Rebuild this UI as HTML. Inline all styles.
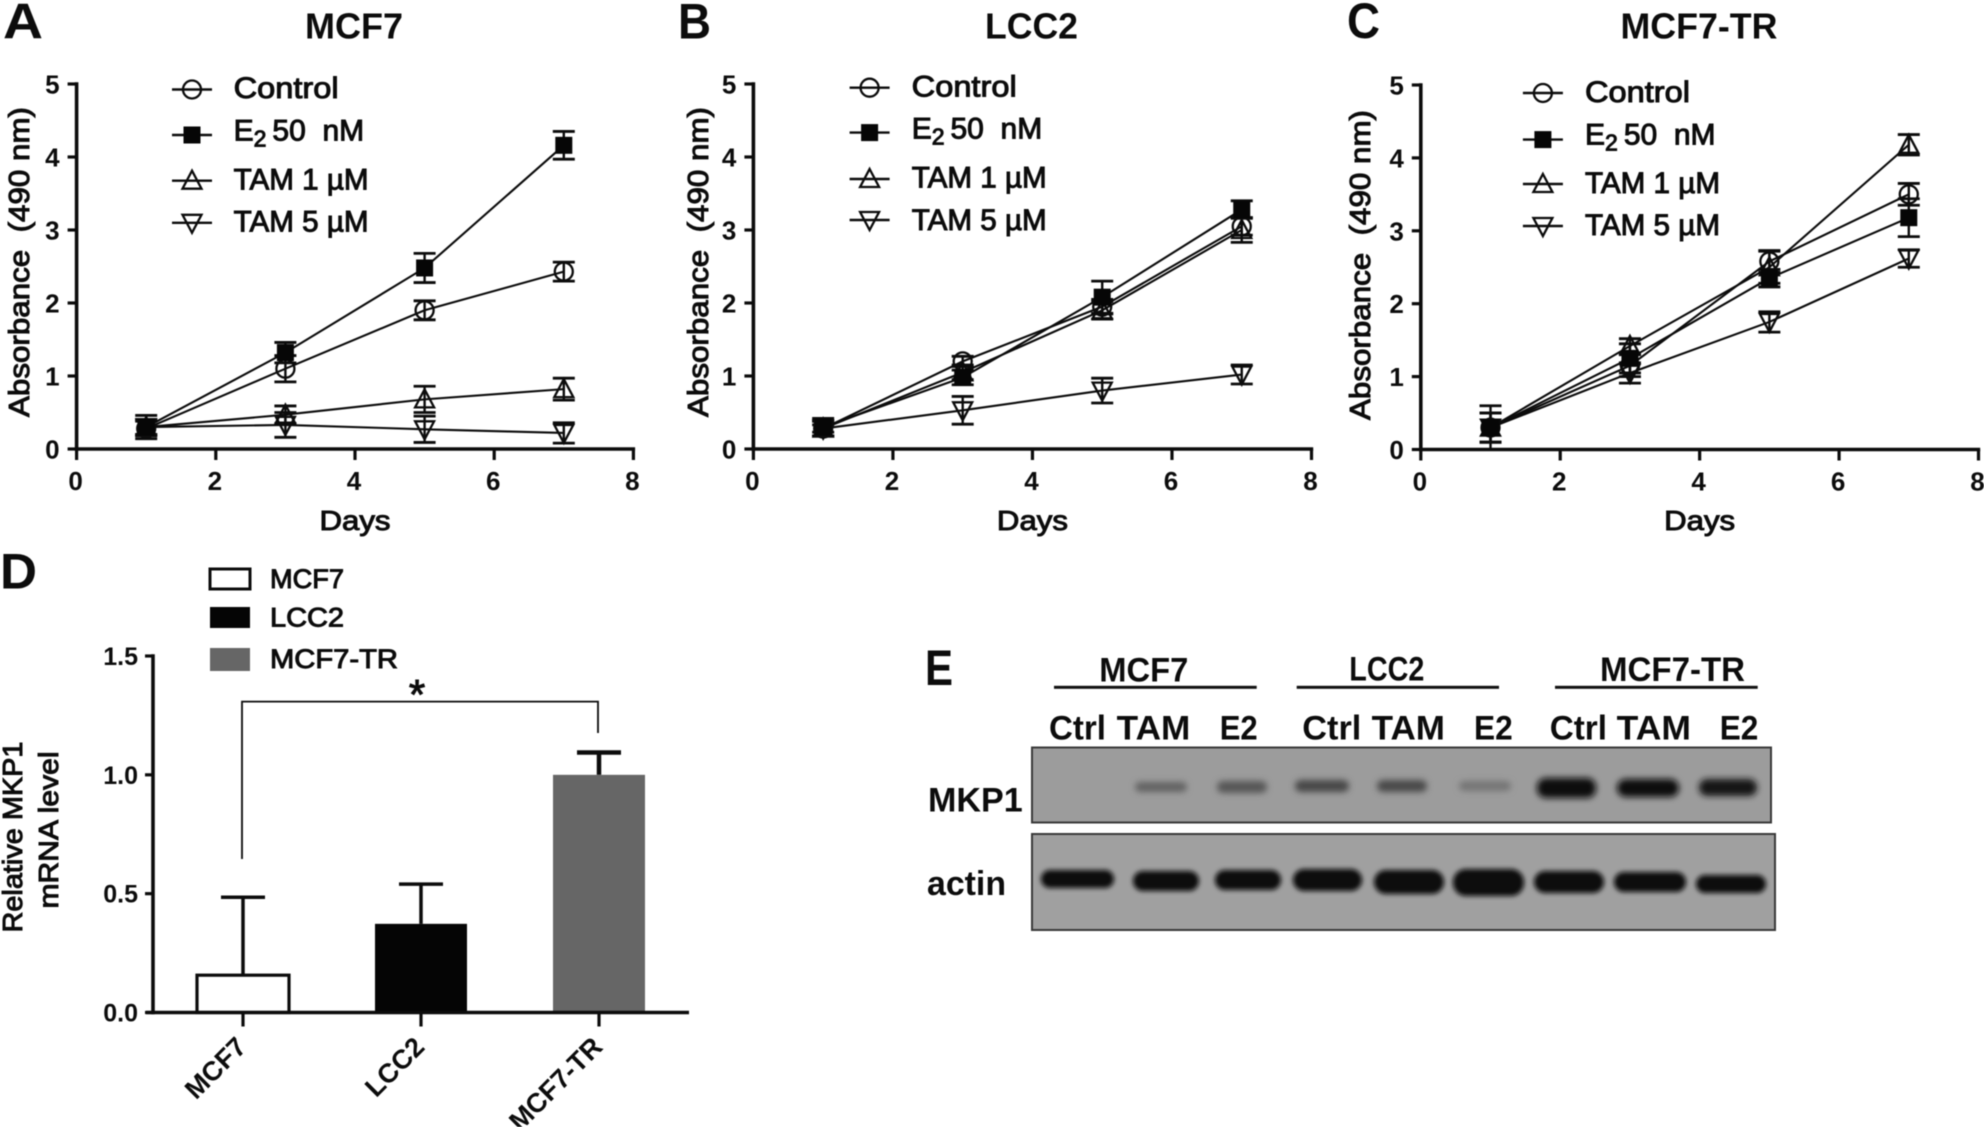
<!DOCTYPE html>
<html lang="en">
<head>
<meta charset="utf-8">
<title>MKP1 proliferation and expression figure</title>
<style>
html,body{margin:0;padding:0;background:#fff;}
#figure{display:block;width:1984px;height:1127px;background:#fff;filter:blur(.45px);}
text{font-family:"Liberation Sans",sans-serif;fill:#0c0c0c;white-space:pre;}
.b{font-weight:700;}
.m{font-weight:400;stroke:#0c0c0c;stroke-width:1px;}
</style>
</head>
<body>
<svg id="figure" xmlns="http://www.w3.org/2000/svg" width="1984" height="1127" viewBox="0 0 1984 1127">
  <defs>
    <filter id="blur2" x="-20%" y="-80%" width="140%" height="260%"><feGaussianBlur stdDeviation="2.4"/></filter>
    <filter id="blur3" x="-20%" y="-100%" width="140%" height="300%"><feGaussianBlur stdDeviation="3.2"/></filter>
  </defs>

  <text class="b" x="3" y="38.6" font-size="50" textLength="40" lengthAdjust="spacingAndGlyphs">A</text>
  <text class="b" x="678" y="38.6" font-size="50" textLength="33" lengthAdjust="spacingAndGlyphs">B</text>
  <text class="b" x="1347" y="38" font-size="50" textLength="33" lengthAdjust="spacingAndGlyphs">C</text>
  <text class="b" x="0" y="588.6" font-size="50" textLength="37" lengthAdjust="spacingAndGlyphs">D</text>
  <text class="b" x="925" y="685" font-size="50" textLength="28" lengthAdjust="spacingAndGlyphs">E</text>

  <g id="charts"></g>
  <g id="bars"></g>

  <g>
    <text class="b" x="1099.3" y="681.7" font-size="34" textLength="89" lengthAdjust="spacingAndGlyphs">MCF7</text>
    <text class="b" x="1349.3" y="680.7" font-size="34" textLength="75" lengthAdjust="spacingAndGlyphs">LCC2</text>
    <text class="b" x="1600" y="681" font-size="34" textLength="145" lengthAdjust="spacingAndGlyphs">MCF7-TR</text>
    <rect x="1054" y="685.8" width="202.7" height="3" fill="#111"/>
    <rect x="1296.7" y="685.8" width="202.3" height="3" fill="#111"/>
    <rect x="1555" y="685.8" width="202.7" height="3" fill="#111"/>

    <text class="b" x="1049" y="739.3" font-size="34" textLength="57" lengthAdjust="spacingAndGlyphs">Ctrl</text>
    <text class="b" x="1116.7" y="739.3" font-size="34" textLength="73.6" lengthAdjust="spacingAndGlyphs">TAM</text>
    <text class="b" x="1219.7" y="739.3" font-size="34" textLength="38" lengthAdjust="spacingAndGlyphs">E2</text>
    <text class="b" x="1302.3" y="739.3" font-size="34" textLength="59" lengthAdjust="spacingAndGlyphs">Ctrl</text>
    <text class="b" x="1371.7" y="739.3" font-size="34" textLength="73.3" lengthAdjust="spacingAndGlyphs">TAM</text>
    <text class="b" x="1474" y="739.3" font-size="34" textLength="38.7" lengthAdjust="spacingAndGlyphs">E2</text>
    <text class="b" x="1549.7" y="739.3" font-size="34" textLength="57.3" lengthAdjust="spacingAndGlyphs">Ctrl</text>
    <text class="b" x="1616.7" y="739.3" font-size="34" textLength="74.3" lengthAdjust="spacingAndGlyphs">TAM</text>
    <text class="b" x="1719.7" y="739.3" font-size="34" textLength="38.6" lengthAdjust="spacingAndGlyphs">E2</text>

    <text class="b" x="928" y="811.7" font-size="34" textLength="94.7" lengthAdjust="spacingAndGlyphs">MKP1</text>
    <text class="b" x="927" y="895" font-size="34" textLength="79" lengthAdjust="spacingAndGlyphs">actin</text>

    <g>
      <rect x="1032" y="747.5" width="739" height="75" fill="#9c9c9c" stroke="#3a3a3a" stroke-width="2"/>
      <g filter="url(#blur3)">
        <rect x="1135" y="782" width="52" height="10" rx="5" fill="#626262"/>
        <rect x="1217" y="781" width="50" height="12" rx="6" fill="#565656"/>
        <rect x="1295" y="780" width="54" height="12" rx="6" fill="#464646"/>
        <rect x="1377" y="780" width="50" height="12" rx="6" fill="#4a4a4a"/>
        <rect x="1459" y="781" width="52" height="10" rx="5" fill="#747474"/>
        <rect x="1537" y="778" width="59" height="20" rx="9" fill="#0c0c0c"/>
        <rect x="1617" y="779" width="62" height="18" rx="9" fill="#0e0e0e"/>
        <rect x="1699" y="779" width="58" height="17" rx="8" fill="#141414"/>
      </g>
    </g>
    <g>
      <rect x="1032" y="834" width="743" height="96" fill="#a0a0a0" stroke="#3a3a3a" stroke-width="2"/>
      <g filter="url(#blur2)">
        <rect x="1041" y="870" width="73" height="18" rx="9" fill="#0a0a0a"/>
        <rect x="1133" y="871" width="66" height="20" rx="10" fill="#0a0a0a"/>
        <rect x="1215" y="870" width="66" height="20" rx="10" fill="#0a0a0a"/>
        <rect x="1293" y="869" width="69" height="22" rx="11" fill="#080808"/>
        <rect x="1374" y="870" width="70" height="24" rx="12" fill="#080808"/>
        <rect x="1453" y="869" width="71" height="27" rx="13" fill="#080808"/>
        <rect x="1534" y="871" width="70" height="22" rx="11" fill="#0a0a0a"/>
        <rect x="1614" y="872" width="72" height="20" rx="10" fill="#0a0a0a"/>
        <rect x="1696" y="875" width="70" height="18" rx="9" fill="#0c0c0c"/>
      </g>
    </g>
  </g>
</svg>

<script>
// ---- line chart data ----
const days = [1, 3, 5, 7];
const xTickLabels = [0, 2, 4, 6, 8];
const yTickLabels = [0, 1, 2, 3, 4, 5];
const seriesNames = ['control', 'e2-50nm', 'tam-1um', 'tam-5um'];

const mcf7Control = [0.28, 1.10, 1.90, 2.43];
const mcf7E2 = [0.30, 1.32, 2.48, 4.16];
const mcf7Tam1 = [0.30, 0.47, 0.68, 0.82];
const mcf7Tam5 = [0.30, 0.33, 0.27, 0.22];
const mcf7ControlErr = [0.10, 0.18, 0.13, 0.13];
const mcf7E2Err = [0.16, 0.14, 0.20, 0.19];
const mcf7Tam1Err = [0.10, 0.12, 0.18, 0.15];
const mcf7Tam5Err = [0.10, 0.17, 0.18, 0.14];

const lcc2Control = [0.28, 1.20, 1.95, 3.05];
const lcc2E2 = [0.30, 0.98, 2.08, 3.28];
const lcc2Tam1 = [0.28, 1.05, 1.90, 3.00];
const lcc2Tam5 = [0.28, 0.53, 0.80, 1.02];
const lcc2ControlErr = [0.05, 0.07, 0.10, 0.12];
const lcc2E2Err = [0.12, 0.10, 0.22, 0.12];
const lcc2Tam1Err = [0.10, 0.10, 0.12, 0.17];
const lcc2Tam5Err = [0.10, 0.19, 0.17, 0.13];

const trControl = [0.30, 1.15, 2.58, 3.50];
const trE2 = [0.30, 1.25, 2.35, 3.18];
const trTam1 = [0.30, 1.42, 2.50, 4.18];
const trTam5 = [0.30, 1.05, 1.75, 2.62];
const trControlErr = [0.30, 0.15, 0.15, 0.15];
const trE2Err = [0.20, 0.20, 0.12, 0.26];
const trTam1Err = [0.20, 0.10, 0.22, 0.14];
const trTam5Err = [0.20, 0.14, 0.14, 0.12];

// ---- bar chart data ----
const barCategories = ['MCF7', 'LCC2', 'MCF7-TR'];
const barValues = [0.157, 0.373, 1.0];
const barErrors = [0.328, 0.167, 0.094];
const barTickLabels = ['0.0', '0.5', '1.0', '1.5'];

const NS = 'http://www.w3.org/2000/svg';
const ink = '#0c0c0c';

function mk(parent, tag, attrs, txt) {
  const el = document.createElementNS(NS, tag);
  for (const k in attrs) el.setAttribute(k, attrs[k]);
  if (txt !== undefined) el.textContent = txt;
  parent.appendChild(el);
  return el;
}

function seg(parent, x1, y1, x2, y2, w, name) {
  const el = mk(parent, 'line', { x1: x1, y1: y1, x2: x2, y2: y2, stroke: ink, 'stroke-width': w });
  
  
  return el;
}

function label(parent, x, y, str, size, cls, anchor, len, name) {
  const a = { x: x, y: y, 'font-size': size, class: cls, 'text-anchor': anchor };
  if (len) { a.textLength = len; a.lengthAdjust = 'spacingAndGlyphs'; }
  const el = mk(parent, 'text', a, str);
  
  
  return el;
}

function marker(parent, kind, cx, cy, name) {
  let el;
  const open = { fill: 'none', stroke: ink, 'stroke-width': 2.3 };
  if (kind === 0) {
    el = mk(parent, 'circle', Object.assign({ cx: cx, cy: cy, r: 9 }, open));
  } else if (kind === 1) {
    el = mk(parent, 'rect', { x: cx - 8.5, y: cy - 8.5, width: 17, height: 17, fill: '#060606' });
  } else if (kind === 2) {
    el = mk(parent, 'polygon', Object.assign({ points: [cx, cy - 10, cx + 9.5, cy + 8, cx - 9.5, cy + 8].join(' ') }, open));
  } else {
    el = mk(parent, 'polygon', Object.assign({ points: [cx - 9.5, cy - 8, cx + 9.5, cy - 8, cx, cy + 10].join(' ') }, open));
  }
  
  
  return el;
}

function drawLineChart(cfg) {
  const root = document.getElementById('charts');
  const g = mk(root, 'g', {});
  
  

  const xScale = v => cfg.x0 + (cfg.x8 - cfg.x0) * v / 8;
  const yScale = v => cfg.y0 + (cfg.y5 - cfg.y0) * v / 5;

  label(g, cfg.titleX, 38.6, cfg.title, 36, 'b', 'middle', cfg.titleLen, 'chart-title');

  // axes
  seg(g, cfg.x0, cfg.y5 - 1.7, cfg.x0, cfg.y0 + 1.7, 3.6, 'y-axis');
  seg(g, cfg.x0 - 1.7, cfg.y0, cfg.x8 + 1.7, cfg.y0, 3.6, 'x-axis');
  yTickLabels.forEach(v => {
    seg(g, cfg.x0 - 9, yScale(v), cfg.x0, yScale(v), 3.2, 'y-tick');
    label(g, cfg.x0 - 17, yScale(v) + 9.5, String(v), 26, 'b', 'end', 0, 'y-tick-label');
  });
  xTickLabels.forEach(v => {
    seg(g, xScale(v), cfg.y0, xScale(v), cfg.y0 + 11, 3.2, 'x-tick');
    label(g, xScale(v) - 1, cfg.y0 + 41, String(v), 26, 'b', 'middle', 0, 'x-tick-label');
  });
  label(g, (cfg.x0 + cfg.x8) / 2, 530, 'Days', 28, 'm', 'middle', 71, 'x-axis-title');

  const t = label(g, 0, 0, 'Absorbance  (490 nm)', 29, 'm', 'middle', 310, 'y-axis-title');
  t.setAttribute('transform', 'translate(' + cfg.titleAxisX + ',' + cfg.titleAxisY + ') rotate(-90)');

  // series: lines, error bars, markers
  const order = [3, 2, 0, 1];
  order.forEach(s => {
    const vals = cfg.series[s];
    const errs = cfg.errors[s];
    const sg = mk(g, 'g', {});
    
    
    const pl = mk(sg, 'polyline', {
      points: days.map((d, i) => xScale(d) + ',' + yScale(vals[i])).join(' '),
      fill: 'none', stroke: ink, 'stroke-width': 2.1
    });
    
    
    days.forEach((d, i) => {
      const cx = xScale(d);
      const hi = yScale(vals[i] + errs[i]);
      const lo = yScale(vals[i] - errs[i]);
      seg(sg, cx, hi, cx, lo, 2.4, 'error-bar');
      seg(sg, cx - 11, hi, cx + 11, hi, 2.8, 'error-cap');
      seg(sg, cx - 11, lo, cx + 11, lo, 2.8, 'error-cap');
      marker(sg, s, cx, yScale(vals[i]), 'point-' + seriesNames[s]);
    });
  });

  // legend
  const lg = mk(g, 'g', {});
  
  
  const lens = [105, 126, 135, 135];
  const names = ['Control', null, 'TAM 1 \u00b5M', 'TAM 5 \u00b5M'];
  cfg.legendRows.forEach((ry, i) => {
    seg(lg, cfg.legendX - 20, ry, cfg.legendX + 20, ry, 2.4, 'legend-line');
    marker(lg, i, cfg.legendX, ry, 'legend-marker');
    if (names[i]) {
      label(lg, cfg.legendText, cfg.legendBase[i], names[i], 30, 'm', 'start', lens[i], 'legend-entry');
    } else {
      const e = label(lg, cfg.legendText, cfg.legendBase[i], 'E', 30, 'm', 'start', 0, 'legend-entry');
      mk(e, 'tspan', { dy: 6, 'font-size': 23 }, '2');
      mk(e, 'tspan', { dy: -6, dx: 6 }, '50  nM');
    }
  });
}

drawLineChart({
  id: 'mcf7', title: 'MCF7', titleX: 354, titleLen: 98,
  x0: 76.6, x8: 633.4, y0: 449, y5: 84, titleAxisX: 29, titleAxisY: 262,
  legendX: 192, legendText: 233.6,
  legendRows: [89.5, 135, 180.7, 222.8], legendBase: [98, 140.4, 189.5, 231.6],
  series: [mcf7Control, mcf7E2, mcf7Tam1, mcf7Tam5],
  errors: [mcf7ControlErr, mcf7E2Err, mcf7Tam1Err, mcf7Tam5Err]
});
drawLineChart({
  id: 'lcc2', title: 'LCC2', titleX: 1031.5, titleLen: 93,
  x0: 753.4, x8: 1311.5, y0: 449, y5: 84, titleAxisX: 708, titleAxisY: 262,
  legendX: 869.6, legendText: 911.7,
  legendRows: [87.7, 132.6, 179, 220], legendBase: [96.5, 138.6, 187.7, 229.8],
  series: [lcc2Control, lcc2E2, lcc2Tam1, lcc2Tam5],
  errors: [lcc2ControlErr, lcc2E2Err, lcc2Tam1Err, lcc2Tam5Err]
});
drawLineChart({
  id: 'mcf7-tr', title: 'MCF7-TR', titleX: 1699, titleLen: 157,
  x0: 1420.8, x8: 1978.5, y0: 449.5, y5: 85, titleAxisX: 1370, titleAxisY: 265,
  legendX: 1542.9, legendText: 1585,
  legendRows: [93, 139.6, 184, 226], legendBase: [101.8, 144.6, 193, 235],
  series: [trControl, trE2, trTam1, trTam5],
  errors: [trControlErr, trE2Err, trTam1Err, trTam5Err]
});

function drawBarChart() {
  const g = document.getElementById('bars');
  const axisX = 153, y0 = 1012.5, y15 = 656;
  const firstTick = 242, tickStep = 178, barW = 92;
  const yScale = v => y0 + (y15 - y0) * v / 1.5;
  const xScale = i => firstTick + tickStep * i;
  const fills = ['#fff', '#050505', '#666'];

  barCategories.forEach((c, i) => {
    const cx = xScale(i) + [1, 1, 1][i];
    const top = yScale(barValues[i]);
    const hi = yScale(barValues[i] + barErrors[i]);
    const stemW = i === 2 ? 4.5 : 3.5;
    seg(g, cx, hi, cx, top, stemW, 'bar-error-' + c.toLowerCase());
    seg(g, cx - 22, hi, cx + 22, hi, stemW, 'bar-error-cap-' + c.toLowerCase());
    const isOpen = i === 0;
    const r = mk(g, 'rect', {
      x: cx - barW / 2, y: top, width: barW, height: y0 - top,
      fill: fills[i], stroke: isOpen ? ink : 'none', 'stroke-width': 3.2
    });
    
    
    seg(g, xScale(i) + 1, y0, xScale(i) + 1, y0 + 14, 3.2, 'x-tick');
    const t = label(g, 0, 0, c, 27, 'b', 'end', 0, 'x-tick-label');
    t.setAttribute('transform', 'translate(' + (xScale(i) + 6) + ',' + (y0 + 36) + ') rotate(-45)');
  });

  seg(g, axisX, y15 - 1.7, axisX, y0 + 1.7, 3.6, 'y-axis');
  seg(g, 146, y0, 689, y0, 3.6, 'x-axis');
  barTickLabels.forEach(v => {
    seg(g, 145, yScale(+v), axisX, yScale(+v), 3.2, 'y-tick');
    label(g, 138, yScale(+v) + 9, v, 25, 'b', 'end', 0, 'y-tick-label');
  });

  const t1 = label(g, 0, 0, 'Relative MKP1', 28, 'm', 'middle', 191, 'y-axis-title-line-1');
  t1.setAttribute('transform', 'translate(22,837) rotate(-90)');
  const t2 = label(g, 0, 0, 'mRNA level', 28, 'm', 'middle', 157, 'y-axis-title-line-2');
  t2.setAttribute('transform', 'translate(58,830) rotate(-90)');

  // significance bracket
  const br = mk(g, 'polyline', { points: '242,859 242,701.6 598,701.6 598,733', fill: 'none', stroke: ink, 'stroke-width': 1.8 });
  
  
  label(g, 417, 709, '*', 42, 'm', 'middle', 0, 'significance-star');

  // legend
  const swatchY = [569, 607, 648];
  const swatchH = [20, 21, 23];
  const legendY = [588, 626.5, 668];
  const legendLen = [74, 74, 128];
  barCategories.forEach((c, i) => {
    const isOpen = i === 0;
    const s = mk(g, 'rect', {
      x: 210, y: swatchY[i], width: 40, height: swatchH[i],
      fill: fills[i], stroke: isOpen ? ink : 'none', 'stroke-width': 3
    });
    
    
    label(g, 270, legendY[i], c, 27, 'm', 'start', legendLen[i], 'legend-entry');
  });
}
drawBarChart();
</script>
</body>
</html>
